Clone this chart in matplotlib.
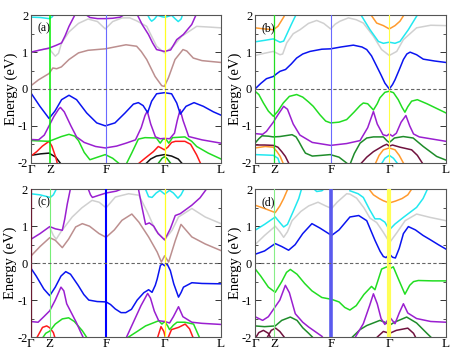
import matplotlib
matplotlib.use("Agg")
import matplotlib.pyplot as plt
from matplotlib.ticker import MultipleLocator, FixedLocator, FixedFormatter

plt.rcParams['font.family'] = ['Liberation Serif', 'DejaVu Serif']

# ---- k-path ----
KPATH_POS = [0.0, 0.1, 0.397, 0.704, 1.0]
KPATH_LABELS = ['Γ', 'Z', 'F', 'Γ', 'L']
YTICKS = [-2, -1, 0, 1, 2]
YTICK_LABELS = ['-2', '-1', '0', '1', '2']

# ---- Panel (a) bands: (k, E) ----
a_blue = [(0,-0.11),(0.047,-0.47),(0.095,-0.8),(0.126,-0.6),(0.161,-0.29),(0.2,-0.17),(0.24,-0.29),(0.293,-0.65),(0.346,-0.92),(0.391,-1.0),(0.442,-0.92),(0.495,-0.65),(0.539,-0.41),(0.565,-0.37),(0.59,-0.45),(0.614,-0.64),(0.635,-0.33),(0.661,-0.13),(0.702,-0.1),(0.74,-0.13),(0.767,-0.38),(0.786,-0.68),(0.816,-0.47),(0.858,-0.37),(0.907,-0.47),(0.96,-0.62),(1.0,-0.71)]
a_brown = [(0,0.09),(0.04,0.25),(0.095,0.42),(0.115,0.57),(0.135,0.55),(0.16,0.6),(0.2,0.8),(0.25,0.98),(0.3,1.05),(0.391,1.09),(0.45,1.15),(0.5,1.2),(0.556,1.16),(0.58,1.02),(0.609,0.8),(0.653,0.34),(0.688,0.09),(0.702,0.07),(0.723,0.3),(0.758,0.8),(0.8,1.07),(0.82,1.03),(0.854,0.84),(0.9,0.77),(1.0,0.72)]
a_gray = [(0,1.0),(0.05,1.06),(0.095,1.1),(0.11,1.0),(0.128,0.89),(0.145,0.97),(0.161,1.25),(0.2,1.55),(0.25,1.78),(0.3,1.9),(0.35,1.83),(0.391,1.63),(0.43,1.83),(0.48,1.93),(0.52,1.93),(0.556,1.85),(0.609,1.7),(0.661,1.16),(0.702,0.98),(0.749,1.16),(0.793,1.43),(0.872,1.7),(0.94,1.68),(1.0,1.66)]
a_purple_up1 = [(0,1.0),(0.05,1.06),(0.095,1.11),(0.13,1.18),(0.161,1.25),(0.18,1.45),(0.2,1.7),(0.225,1.95),(0.235,2.05)]
a_purple_up2 = [(0.28,2.05),(0.31,1.94),(0.35,1.91),(0.391,1.91),(0.43,1.92),(0.47,1.95),(0.5,2.05)]
a_purple_up3 = [(0.556,2.05),(0.585,1.75),(0.618,1.48),(0.64,1.25),(0.661,1.07),(0.702,1.02),(0.735,1.06),(0.767,1.34),(0.802,1.48),(0.846,1.75),(0.872,2.05)]
a_cyan1 = [(0,1.95),(0.05,1.94),(0.095,1.91),(0.11,1.95),(0.125,2.05)]
a_cyan2 = [(0.61,2.05),(0.625,1.9),(0.635,1.84),(0.65,1.9),(0.665,2.0),(0.69,1.96),(0.702,1.95),(0.715,1.96),(0.74,2.0),(0.76,1.9),(0.775,1.83),(0.79,1.9),(0.8,2.05)]
a_purple_low = [(0,-1.37),(0.04,-1.38),(0.07,-1.25),(0.095,-1.0),(0.12,-0.75),(0.145,-0.55),(0.155,-0.5),(0.175,-0.62),(0.21,-1.0),(0.24,-1.3),(0.28,-1.45),(0.34,-1.56),(0.391,-1.6),(0.45,-1.55),(0.5,-1.47),(0.55,-1.38),(0.58,-1.05),(0.6,-0.72),(0.612,-0.6),(0.63,-0.95),(0.655,-1.3),(0.68,-1.35),(0.702,-1.34),(0.73,-1.35),(0.755,-1.2),(0.77,-0.85),(0.785,-0.56),(0.8,-0.85),(0.83,-1.29),(0.9,-1.38),(1.0,-1.47)]
a_green1 = [(0,-1.4),(0.05,-1.41),(0.095,-1.42),(0.13,-1.35),(0.16,-1.29),(0.2,-1.23),(0.23,-1.28),(0.25,-1.4),(0.28,-1.72),(0.31,-1.92),(0.35,-1.85),(0.391,-1.78),(0.43,-1.88),(0.47,-2.05)]
a_green2 = [(0.5,-2.05),(0.53,-1.74),(0.565,-1.36),(0.6,-1.32),(0.66,-1.33),(0.68,-1.47),(0.695,-1.36),(0.71,-1.36),(0.725,-1.47),(0.745,-1.32),(0.81,-1.3),(0.846,-1.42),(0.872,-1.56),(0.933,-1.74),(1.0,-1.9)]
a_green3 = [(0.665,-2.05),(0.69,-1.88),(0.702,-1.84),(0.715,-1.88),(0.74,-2.05)]
a_red1 = [(0,-1.82),(0.03,-1.7),(0.06,-1.55),(0.095,-1.42),(0.11,-1.55),(0.13,-1.85),(0.14,-2.05)]
a_red2 = [(0.56,-2.05),(0.6,-1.88),(0.644,-1.7),(0.67,-1.56),(0.685,-1.6),(0.702,-1.65),(0.72,-1.58),(0.74,-1.45),(0.76,-1.42),(0.81,-1.42),(0.84,-1.5),(0.872,-1.79),(0.895,-2.05)]
a_black1 = [(0,-1.8),(0.05,-1.76),(0.095,-1.74),(0.13,-1.85),(0.16,-2.05)]
a_black2 = [(0.6,-2.05),(0.63,-1.9),(0.66,-1.82),(0.702,-1.78),(0.74,-1.82),(0.775,-1.9),(0.8,-2.05)]

# ---- Panel (b) ----
b_blue = [(0,0.0),(0.03,0.15),(0.06,0.28),(0.096,0.34),(0.115,0.42),(0.131,0.48),(0.16,0.53),(0.19,0.68),(0.218,0.84),(0.25,0.95),(0.288,1.02),(0.35,1.08),(0.396,1.09),(0.45,1.14),(0.515,1.19),(0.56,1.14),(0.585,1.07),(0.61,0.9),(0.637,0.62),(0.66,0.38),(0.68,0.16),(0.703,0.0),(0.72,0.12),(0.733,0.25),(0.755,0.52),(0.777,0.8),(0.795,0.95),(0.812,1.0),(0.846,0.93),(0.881,0.81),(0.94,0.76),(1.0,0.72)]
b_green = [(0,-0.06),(0.02,-0.15),(0.044,-0.38),(0.07,-0.6),(0.096,-0.74),(0.12,-0.6),(0.148,-0.38),(0.18,-0.2),(0.218,-0.15),(0.25,-0.22),(0.28,-0.35),(0.305,-0.47),(0.34,-0.7),(0.37,-0.87),(0.396,-0.92),(0.44,-0.9),(0.48,-0.83),(0.52,-0.62),(0.55,-0.45),(0.567,-0.38),(0.59,-0.4),(0.62,-0.57),(0.64,-0.4),(0.654,-0.24),(0.68,-0.09),(0.703,-0.06),(0.725,-0.1),(0.75,-0.29),(0.77,-0.5),(0.785,-0.63),(0.8,-0.48),(0.82,-0.33),(0.85,-0.29),(0.9,-0.4),(1.0,-0.65)]
b_purple = [(0,-1.21),(0.04,-1.23),(0.06,-1.15),(0.096,-0.9),(0.12,-0.7),(0.15,-0.47),(0.17,-0.55),(0.2,-0.95),(0.235,-1.25),(0.3,-1.45),(0.396,-1.53),(0.48,-1.48),(0.55,-1.4),(0.59,-1.05),(0.62,-0.61),(0.64,-0.95),(0.67,-1.24),(0.69,-1.27),(0.703,-1.22),(0.72,-1.28),(0.74,-1.2),(0.765,-0.9),(0.79,-0.72),(0.81,-1.0),(0.83,-1.22),(0.86,-1.3),(1.0,-1.42)]
b_dkgreen1 = [(0,-1.47),(0.02,-1.35),(0.037,-1.27),(0.07,-1.28),(0.096,-1.3),(0.13,-1.29),(0.194,-1.24),(0.215,-1.3),(0.229,-1.42),(0.25,-1.62),(0.264,-1.74),(0.3,-1.82),(0.35,-1.8),(0.394,-1.78),(0.44,-1.85),(0.49,-2.05)]
b_dkgreen2 = [(0.497,-2.05),(0.52,-1.75),(0.55,-1.47),(0.585,-1.33),(0.62,-1.3),(0.672,-1.3),(0.69,-1.4),(0.703,-1.45),(0.715,-1.4),(0.73,-1.33),(0.776,-1.29),(0.828,-1.33),(0.881,-1.56),(0.951,-1.83),(1.0,-1.93)]
b_orange1 = [(0,1.66),(0.05,1.63),(0.096,1.61),(0.12,1.7),(0.131,1.79),(0.15,1.95),(0.16,2.05)]
b_orange2 = [(0.602,2.05),(0.637,1.79),(0.672,1.72),(0.703,1.63),(0.733,1.72),(0.759,1.84),(0.785,2.05)]
b_cyan1 = [(0,1.28),(0.05,1.32),(0.096,1.36),(0.131,1.27),(0.15,1.3),(0.166,1.48),(0.19,1.75),(0.218,2.05)]
b_cyan2 = [(0.55,2.05),(0.602,1.61),(0.646,1.29),(0.672,1.24),(0.703,1.27),(0.733,1.24),(0.759,1.29),(0.803,1.61),(0.855,2.05)]
b_gray = [(0,0.91),(0.05,0.97),(0.096,1.02),(0.131,0.93),(0.145,0.95),(0.166,1.25),(0.2,1.5),(0.236,1.61),(0.28,1.78),(0.323,1.86),(0.36,1.78),(0.396,1.63),(0.42,1.76),(0.445,1.84),(0.489,1.93),(0.53,1.88),(0.567,1.79),(0.62,1.43),(0.663,1.07),(0.703,0.91),(0.742,1.02),(0.777,1.34),(0.846,1.66),(0.92,1.73),(1.0,1.72)]
b_cyan_low1 = [(0,-1.78),(0.05,-1.79),(0.096,-1.8),(0.12,-1.88),(0.131,-2.05)]
b_cyan_low2 = [(0.66,-2.05),(0.68,-1.88),(0.703,-1.8),(0.725,-1.88),(0.75,-2.05)]
b_orange_low1 = [(0,-1.6),(0.054,-1.56),(0.096,-1.58),(0.115,-1.7),(0.132,-1.83),(0.15,-2.05)]
b_orange_low2 = [(0.628,-2.05),(0.65,-1.8),(0.672,-1.65),(0.703,-1.6),(0.733,-1.65),(0.755,-1.8),(0.776,-2.0)]
b_maroon1 = [(0,-1.52),(0.05,-1.52),(0.096,-1.53),(0.12,-1.58),(0.14,-1.7),(0.159,-1.83),(0.18,-2.05)]
b_maroon2 = [(0.55,-2.05),(0.585,-1.85),(0.62,-1.7),(0.672,-1.54),(0.69,-1.5),(0.703,-1.55),(0.72,-1.52),(0.76,-1.58),(0.82,-1.65),(0.85,-1.8),(0.881,-2.05)]

# ---- Panel (c) ----
c_blue = [(0,-0.12),(0.03,-0.35),(0.07,-0.7),(0.101,-0.88),(0.13,-0.65),(0.16,-0.35),(0.185,-0.23),(0.21,-0.3),(0.25,-0.6),(0.28,-0.85),(0.306,-1.0),(0.35,-1.04),(0.397,-1.05),(0.42,-1.12),(0.445,-1.24),(0.475,-1.34),(0.5,-1.34),(0.53,-1.25),(0.56,-1.0),(0.595,-0.8),(0.62,-0.72),(0.638,-0.79),(0.655,-0.6),(0.665,-0.43),(0.682,-0.06),(0.692,-0.02),(0.704,-0.07),(0.717,-0.02),(0.734,-0.2),(0.752,-0.56),(0.777,-0.92),(0.79,-0.8),(0.803,-0.65),(0.847,-0.53),(0.9,-0.55),(1.0,-0.56)]
c_brown = [(0,0.18),(0.05,0.45),(0.101,0.69),(0.13,0.62),(0.167,0.42),(0.2,0.65),(0.237,0.98),(0.272,1.07),(0.31,1.0),(0.36,0.8),(0.397,0.7),(0.44,0.9),(0.48,1.16),(0.532,1.33),(0.569,1.11),(0.62,0.71),(0.665,0.3),(0.687,0.03),(0.704,0.2),(0.725,0.03),(0.76,0.61),(0.79,1.05),(0.847,0.71),(0.917,0.52),(1.0,0.34)]
c_gray = [(0.101,0.97),(0.12,0.75),(0.135,0.65),(0.16,0.85),(0.219,1.25),(0.27,1.5),(0.323,1.7),(0.36,1.65),(0.397,1.5),(0.445,1.79),(0.515,1.88),(0.569,1.84),(0.612,1.4),(0.656,0.89),(0.704,0.63),(0.743,0.89),(0.777,1.25),(0.847,1.48),(0.917,1.25),(1.0,1.07)]
c_purple_up1 = [(0,0.64),(0.05,0.8),(0.101,0.99),(0.13,0.93),(0.167,0.89),(0.18,1.2),(0.193,1.6),(0.211,2.05)]
c_purple_up2 = [(0.3,2.05),(0.315,1.85),(0.325,1.78),(0.36,1.84),(0.397,1.9),(0.45,1.95),(0.5,2.05)]
c_purple_up3 = [(0.565,2.05),(0.585,1.52),(0.604,1.05),(0.624,1.09),(0.647,1.0),(0.67,0.8),(0.704,0.63),(0.734,0.93),(0.76,1.29),(0.786,1.34),(0.847,1.57),(0.89,1.77),(0.93,2.05)]
c_cyan1 = [(0,1.88),(0.05,1.85),(0.104,1.78),(0.12,1.85),(0.14,2.05)]
c_cyan2 = [(0.6,2.05),(0.62,1.8),(0.638,1.78),(0.66,1.9),(0.68,1.97),(0.704,1.87),(0.73,1.97),(0.75,1.9),(0.774,1.76),(0.79,1.85),(0.81,2.05)]
c_purple_low1 = [(0,-1.58),(0.04,-1.6),(0.07,-1.45),(0.101,-1.29),(0.13,-1.0),(0.16,-0.65),(0.175,-0.75),(0.19,-1.1),(0.209,-1.29),(0.24,-1.6),(0.26,-1.83),(0.28,-2.05)]
c_purple_low2 = [(0.5,-2.05),(0.54,-1.6),(0.58,-1.15),(0.615,-0.82),(0.63,-0.95),(0.65,-1.3),(0.673,-1.56),(0.704,-1.58),(0.73,-1.62),(0.75,-1.45),(0.777,-1.18),(0.8,-1.45),(0.847,-1.6),(0.9,-1.63),(1.0,-1.66)]
c_green1 = [(0.06,-2.05),(0.08,-1.9),(0.101,-1.84),(0.13,-1.65),(0.167,-1.51),(0.2,-1.48),(0.23,-1.58),(0.272,-1.83),(0.3,-2.05)]
c_green2 = [(0.5,-2.05),(0.56,-1.85),(0.604,-1.7),(0.673,-1.56),(0.69,-1.65),(0.704,-1.58),(0.72,-1.7),(0.73,-1.8),(0.75,-1.68),(0.769,-1.6),(0.81,-1.6),(0.856,-1.65),(0.89,-2.05)]
c_red1 = [(0.03,-2.05),(0.063,-1.74),(0.085,-1.7),(0.101,-1.75),(0.12,-1.88),(0.13,-2.05)]
c_red2 = [(0.665,-2.05),(0.685,-1.72),(0.7,-1.85),(0.71,-2.05)]
c_red3 = [(0.72,-2.05),(0.74,-1.8),(0.777,-1.74),(0.812,-1.65),(0.835,-1.78),(0.856,-2.05)]

# ---- Panel (d) ----
d_blue = [(0,0.24),(0.05,0.33),(0.106,0.53),(0.14,0.45),(0.176,0.35),(0.21,0.5),(0.25,0.8),(0.298,1.07),(0.34,0.95),(0.401,0.75),(0.44,0.9),(0.497,1.25),(0.543,1.29),(0.585,1.15),(0.628,0.62),(0.655,0.32),(0.672,0.18),(0.686,0.15),(0.705,0.24),(0.72,0.16),(0.735,0.14),(0.755,0.4),(0.777,0.8),(0.803,0.99),(0.84,0.9),(0.88,0.75),(0.916,0.64),(0.96,0.5),(1.0,0.38)]
d_gray = [(0,0.5),(0.05,0.75),(0.106,1.0),(0.13,0.85),(0.15,0.7),(0.17,0.85),(0.194,1.15),(0.24,1.4),(0.281,1.55),(0.33,1.65),(0.37,1.55),(0.401,1.48),(0.43,1.65),(0.48,1.88),(0.497,1.87),(0.532,1.76),(0.57,1.5),(0.602,1.22),(0.637,1.1),(0.67,0.85),(0.705,0.56),(0.742,0.82),(0.786,1.15),(0.846,1.33),(0.916,1.24),(1.0,1.15)]
d_cyan1 = [(0,0.89),(0.05,1.05),(0.106,1.25),(0.13,1.1),(0.15,0.98),(0.17,1.05),(0.2,1.4),(0.229,1.75),(0.246,2.05)]
d_cyan2 = [(0.3,2.05),(0.323,1.94),(0.35,1.96),(0.37,2.05)]
d_cyan3 = [(0.497,1.96),(0.54,1.88),(0.567,1.78),(0.6,1.45),(0.628,1.2),(0.654,1.2),(0.68,1.11),(0.703,0.9),(0.733,1.06),(0.777,1.24),(0.846,1.51),(0.88,1.75),(0.907,2.05)]
d_orange1 = [(0,1.57),(0.05,1.48),(0.106,1.37),(0.13,1.55),(0.15,1.75),(0.175,2.05)]
d_orange2 = [(0.59,2.05),(0.62,1.85),(0.65,1.75),(0.672,1.69),(0.703,1.63),(0.735,1.68),(0.77,1.75),(0.8,1.85),(0.826,2.05)]
d_green = [(0,-0.15),(0.03,-0.35),(0.07,-0.65),(0.106,-0.79),(0.14,-0.5),(0.165,-0.25),(0.185,-0.17),(0.22,-0.3),(0.26,-0.55),(0.298,-0.75),(0.35,-0.93),(0.401,-0.98),(0.44,-1.05),(0.47,-1.2),(0.497,-1.27),(0.53,-1.15),(0.57,-0.85),(0.61,-0.63),(0.628,-0.72),(0.645,-0.45),(0.663,-0.16),(0.69,-0.1),(0.705,-0.15),(0.724,-0.1),(0.75,-0.42),(0.785,-0.84),(0.81,-0.6),(0.83,-0.5),(0.855,-0.47),(0.93,-0.48),(1.0,-0.48)]
d_purple1 = [(0,-1.45),(0.04,-1.55),(0.07,-1.45),(0.106,-1.18),(0.13,-1.0),(0.159,-0.6),(0.18,-0.8),(0.211,-1.37),(0.25,-1.6),(0.281,-1.73),(0.35,-1.98),(0.36,-2.05)]
d_purple2 = [(0.52,-2.05),(0.567,-1.64),(0.6,-1.15),(0.62,-0.83),(0.64,-1.1),(0.66,-1.5),(0.68,-1.66),(0.705,-1.46),(0.733,-1.64),(0.755,-1.35),(0.777,-1.1),(0.8,-1.35),(0.846,-1.5),(0.92,-1.58),(1.0,-1.6)]
d_dkgreen1 = [(0,-1.7),(0.05,-1.72),(0.106,-1.7),(0.14,-1.55),(0.185,-1.46),(0.22,-1.55),(0.25,-1.75),(0.281,-1.9),(0.31,-2.05)]
d_dkgreen2 = [(0.5,-2.05),(0.55,-1.8),(0.585,-1.69),(0.654,-1.55),(0.68,-1.6),(0.705,-1.68),(0.73,-1.6),(0.794,-1.46),(0.846,-1.62),(0.9,-1.9),(0.93,-2.05)]
d_maroon1 = [(0,-2.05),(0.02,-1.88),(0.044,-1.82),(0.07,-1.9),(0.085,-2.05)]
d_maroon2 = [(0.06,-2.05),(0.085,-1.82),(0.108,-1.76),(0.13,-1.85),(0.16,-2.05)]
d_maroon3 = [(0.63,-2.05),(0.672,-1.85),(0.705,-1.9),(0.74,-1.82),(0.8,-1.76),(0.83,-1.9),(0.845,-2.05)]

BLUE = '#0a14f0'; GREEN = '#22dd22'; PURPLE = '#9a1fd0'; BROWN = '#bc8f8f'
GRAY = '#d0d0d0'; CYAN = '#22e8f0'; ORANGE = '#ff9a2e'; DKGREEN = '#1e8c2a'
MAROON = '#70123e'; RED = '#ff1a1a'; BLACK = '#111111'

panels = {
    'a': [(a_gray, GRAY), (a_cyan1, CYAN), (a_cyan2, CYAN), (a_brown, BROWN),
          (a_purple_up1, PURPLE), (a_purple_up2, PURPLE), (a_purple_up3, PURPLE),
          (a_black1, BLACK), (a_black2, BLACK), (a_green3, '#11aa11'),
          (a_red1, RED), (a_red2, RED), (a_green1, GREEN), (a_green2, GREEN),
          (a_purple_low, PURPLE), (a_blue, BLUE)],
    'b': [(b_gray, GRAY), (b_cyan1, CYAN), (b_cyan2, CYAN), (b_orange1, ORANGE), (b_orange2, ORANGE),
          (b_cyan_low1, CYAN), (b_cyan_low2, CYAN), (b_orange_low1, ORANGE), (b_orange_low2, ORANGE),
          (b_maroon1, MAROON), (b_maroon2, MAROON), (b_dkgreen1, DKGREEN), (b_dkgreen2, DKGREEN),
          (b_purple, PURPLE), (b_green, GREEN), (b_blue, BLUE)],
    'c': [(c_gray, GRAY), (c_cyan1, CYAN), (c_cyan2, CYAN), (c_brown, BROWN),
          (c_purple_up1, PURPLE), (c_purple_up2, PURPLE), (c_purple_up3, PURPLE),
          (c_red1, RED), (c_red2, RED), (c_red3, RED), (c_green1, GREEN), (c_green2, GREEN),
          (c_purple_low1, PURPLE), (c_purple_low2, PURPLE), (c_blue, BLUE)],
    'd': [(d_gray, GRAY), (d_cyan1, CYAN), (d_cyan2, CYAN), (d_cyan3, CYAN),
          (d_orange1, ORANGE), (d_orange2, ORANGE),
          (d_maroon1, MAROON), (d_maroon2, MAROON), (d_maroon3, MAROON),
          (d_dkgreen1, DKGREEN), (d_dkgreen2, DKGREEN), (d_purple1, PURPLE), (d_purple2, PURPLE),
          (d_green, GREEN), (d_blue, BLUE)],
}

# vertical line styles per panel: (Z color, Z lw, F color, F lw, G color, G lw)
vstyles = {
    'a': ('#00ee00', 1.1, '#6a6aff', 0.8, '#ffff22', 0.9),
    'b': ('#22dd22', 0.9, '#6a6aff', 0.8, '#ffff44', 0.8),
    'c': ('#77ee77', 0.8, '#0000ff', 1.5, '#ffff22', 0.9),
    'd': ('#88ee88', 0.8, '#5a5aee', 2.6, '#ffff55', 3.0),
}

W, H = 463, 355
rects = {
    'a': (31 / W, 1 - 162.7 / H, 190 / W, 147.4 / H),
    'b': (255 / W, 1 - 162.7 / H, 191 / W, 147.4 / H),
    'c': (30.5 / W, 1 - 337 / H, 190.5 / W, 147.7 / H),
    'd': (255 / W, 1 - 337 / H, 191 / W, 147.7 / H),
}

fig = plt.figure(figsize=(W / 100, H / 100), dpi=100)
for key in ['a', 'b', 'c', 'd']:
    ax = fig.add_axes(rects[key])
    ax.set_xlim(0, 1)
    ax.set_ylim(-2, 2)
    for pts, col in panels[key]:
        ks = [p[0] for p in pts]
        es = [p[1] for p in pts]
        ax.plot(ks, es, color=col, lw=1.1, solid_joinstyle='round', zorder=2)
    zc, zl, fc, fl, gc, gw = vstyles[key]
    ax.axvline(KPATH_POS[1], color=zc, lw=zl, zorder=3)
    ax.axvline(KPATH_POS[2], color=fc, lw=fl, zorder=3)
    ax.axvline(KPATH_POS[3], color=gc, lw=gw, zorder=3)
    if key == 'c':
        ax.axvline(0.003, color='#6a1a30', lw=1.6, zorder=3)
    ax.axhline(0, color='#666666', lw=0.8, ls=(0, (3, 2)), zorder=4)
    ax.yaxis.set_major_locator(FixedLocator(YTICKS))
    ax.yaxis.set_major_formatter(FixedFormatter(YTICK_LABELS))
    ax.yaxis.set_minor_locator(MultipleLocator(0.5))
    ax.set_xticks(KPATH_POS)
    ax.set_xticklabels(KPATH_LABELS)
    ax.tick_params(axis='y', which='major', direction='in', length=4, width=0.7,
                   left=True, right=True, labelsize=9, pad=2, colors='#333333', labelcolor='black')
    ax.tick_params(axis='y', which='minor', direction='in', length=2, width=0.6,
                   left=True, right=True, colors='#333333')
    ax.tick_params(axis='x', length=0, labelsize=9.5, pad=1)
    for s in ax.spines.values():
        s.set_color('#555555')
        s.set_linewidth(0.8)
    ax.set_ylabel('Energy (eV)', fontsize=10.5, labelpad=0)
    ax.text(0.035, 0.955, '(%s)' % key, transform=ax.transAxes, fontsize=8.5,
            ha='left', va='top', zorder=5)

fig.savefig('out.png', dpi=100)
